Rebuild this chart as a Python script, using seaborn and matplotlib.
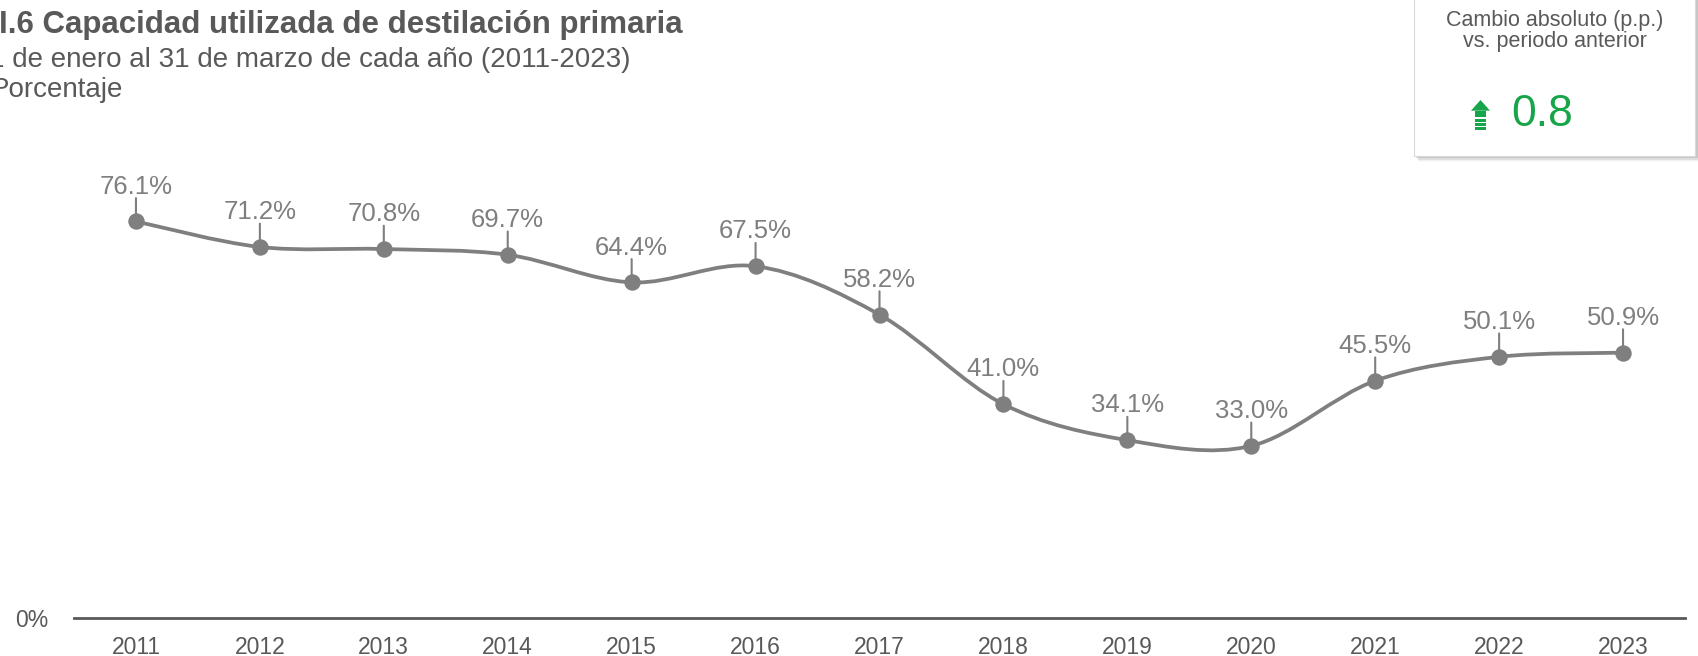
import numpy as np
import pandas as pd
import matplotlib
matplotlib.use("Agg")
import matplotlib.pyplot as plt
import matplotlib.patches as mpatches
from matplotlib.path import Path
import seaborn as sns

# data
years = [2011, 2012, 2013, 2014, 2015, 2016, 2017, 2018, 2019, 2020, 2021, 2022, 2023]
capacidad = [76.1, 71.2, 70.8, 69.7, 64.4, 67.5, 58.2, 41.0, 34.1, 33.0, 45.5, 50.1, 50.9]
cambio_pp = 0.8

title = "I.6 Capacidad utilizada de destilación primaria"
subtitle = "1 de enero al 31 de marzo de cada año (2011-2023)"
unidad = "Porcentaje"
box_title = "Cambio absoluto (p.p.)\nvs. periodo anterior"

df = pd.DataFrame({"year": years, "valor": capacidad})

W, H = 1699, 656
LINE_GRAY = "#7f7f7f"
TEXT_GRAY = "#595959"
GREEN = "#17a549"

sns.set_theme(style="white")
plt.rcParams["font.family"] = ["Liberation Sans", "DejaVu Sans"]

fig = plt.figure(figsize=(W / 100, H / 100), dpi=100)
ax = fig.add_axes([74 / W, (H - 617.7) / H, (1685 - 74) / W, (617.7 - 97) / H])

# smooth line (cubic bezier through the points, like a spreadsheet smoothed line)
pts = df[["year", "valor"]].to_numpy(dtype=float)
ext = np.vstack([pts[0], pts, pts[-1]])
verts = [tuple(pts[0])]
codes = [Path.MOVETO]
for i in range(1, len(ext) - 2):
    p0, p1, p2, p3 = ext[i - 1], ext[i], ext[i + 1], ext[i + 2]
    c1 = p1 + (p2 - p0) / 6
    c2 = p2 - (p3 - p1) / 6
    verts += [tuple(c1), tuple(c2), tuple(p2)]
    codes += [Path.CURVE4] * 3
ax.add_patch(mpatches.PathPatch(Path(verts, codes), facecolor="none",
                                edgecolor=LINE_GRAY, lw=2.7, zorder=2,
                                capstyle="round", joinstyle="round"))

sns.scatterplot(data=df, x="year", y="valor", ax=ax, s=140, color=LINE_GRAY,
                linewidth=0, zorder=4, legend=False)

# value labels with a small stem
for x, y in zip(years, capacidad):
    ax.annotate("", xy=(x, y), xytext=(0, 16.8), textcoords="offset points",
                arrowprops=dict(arrowstyle="-", color=LINE_GRAY, lw=1.5,
                                shrinkA=0, shrinkB=0), zorder=3)
    ax.annotate(f"{y:.1f}%", xy=(x, y), xytext=(0, 20), textcoords="offset points",
                ha="center", va="baseline", fontsize=18.5, color=LINE_GRAY)

ax.set_xlim(2010.5, 2023.5)
ax.set_ylim(0, 100)
ax.set_xticks(years)
ax.set_xticklabels([str(y) for y in years])
ax.set_yticks([0])
ax.set_yticklabels(["0%"])
ax.tick_params(axis="x", length=0, pad=13, labelsize=16.5, labelcolor=TEXT_GRAY)
ax.tick_params(axis="y", length=0, pad=18.5, labelsize=16.5, labelcolor=TEXT_GRAY)
ax.set_xlabel("")
ax.set_ylabel("")
for side in ["top", "right", "left"]:
    ax.spines[side].set_visible(False)
ax.spines["bottom"].set_color(TEXT_GRAY)
ax.spines["bottom"].set_linewidth(2)
ax.grid(False)

# titles (cut at the left edge as in the original)
fig.text(-1 / W, 1 - 33 / H, title, fontsize=22.5, fontweight="bold",
         color=TEXT_GRAY, va="baseline", ha="left")
fig.text(-11 / W, 1 - 66.7 / H, subtitle, fontsize=20, color=TEXT_GRAY,
         va="baseline", ha="left")
fig.text(-9 / W, 1 - 97.3 / H, unidad, fontsize=20, color=TEXT_GRAY,
         va="baseline", ha="left")

# indicator box
def fx(px):
    return px / W

def fy(py):
    return 1 - py / H

for k, a in enumerate([0.14, 0.10, 0.07, 0.04, 0.02]):
    fig.add_artist(mpatches.Rectangle((fx(1415 + k), fy(156 + 1.2 * (k + 1))),
                                      (281 + 0.6 * k) / W, (161 + 1.2 * (k + 1)) / H,
                                      transform=fig.transFigure, facecolor="black",
                                      edgecolor="none", alpha=a, zorder=5))
fig.add_artist(mpatches.Rectangle((fx(1414), fy(156)), 281 / W, 166 / H,
                                  transform=fig.transFigure, facecolor="white",
                                  edgecolor="#d9d9d9", lw=0.8, zorder=6))
fig.text(fx(1555), fy(31), box_title, fontsize=15.5, color=TEXT_GRAY,
         ha="center", va="center", linespacing=0.95, zorder=7)
fig.text(fx(1511), fy(126), f"{cambio_pp:.1f}", fontsize=32, color=GREEN,
         ha="left", va="baseline", zorder=7)

arrow_parts = [
    [(1471, 110.7), (1480.5, 100), (1490, 110.7)],
    [(1475, 110.7), (1486, 110.7), (1486, 117), (1475, 117)],
    [(1475, 119), (1486, 119), (1486, 121.5), (1475, 121.5)],
    [(1475, 123), (1486, 123), (1486, 125.5), (1475, 125.5)],
    [(1475, 127), (1486, 127), (1486, 129.5), (1475, 129.5)],
]
for poly in arrow_parts:
    fig.add_artist(mpatches.Polygon([(fx(px), fy(py)) for px, py in poly],
                                    closed=True, transform=fig.transFigure,
                                    facecolor=GREEN, edgecolor="none", zorder=7))

fig.savefig("out.png", dpi=100)
